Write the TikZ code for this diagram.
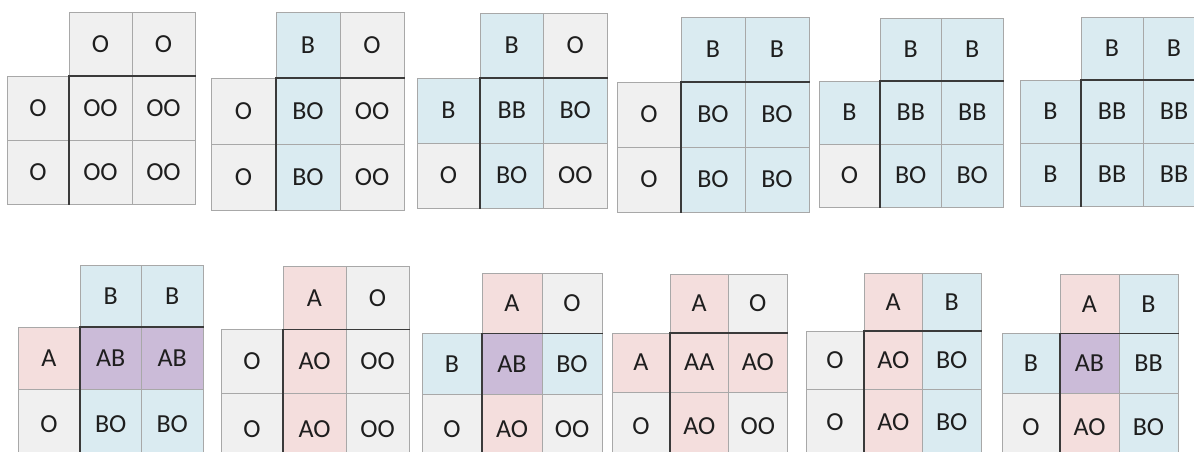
\documentclass[tikz,border=0pt]{standalone}
\usepackage{fontspec}
\setmainfont{Carlito}
\definecolor{gr}{HTML}{F0F0F0}
\definecolor{bl}{HTML}{DAEBF1}
\definecolor{pk}{HTML}{F4DEDD}
\definecolor{pu}{HTML}{CBBBD8}
\definecolor{bd}{HTML}{A8A8A8}
\definecolor{sepc}{HTML}{3A3A3A}
\definecolor{txt}{HTML}{1E1E1E}
\tikzset{
  cell/.style={draw=bd, line width=1pt, rectangle, inner sep=0pt, outer sep=0pt,
    anchor=north west, text=txt, font=\fontsize{26}{26}\selectfont},
  sepline/.style={draw=sepc, line width=1.8pt, line cap=rect}
}
\def\bext{0}
% #1 name, #2 xL, #3 xH, #4 yT, #5 w, #6 h, #7 cells i/j/colour/label
\newcommand\pgrid[7]{%
  \foreach \i/\j/\c/\t in {#7}{%
    \pgfmathsetmacro\xx{\i==0 ? #2 : #3+(\i-1)*#5}%
    \pgfmathsetmacro\ww{\i==0 ? #3-#2 : #5}%
    \pgfmathsetmacro\hh{\j==2 ? #6+\bext : #6}%
    \pgfmathsetmacro\yy{#4+\j*#6}%
    \node[cell, fill=\c, minimum width=\ww pt, minimum height=\hh pt] (#1-\i-\j) at (\xx,\yy) {\t};
  }%
  \draw[sepline] (#1-1-1.north west) -- (#1-2-1.north east);
  \draw[sepline] (#1-1-1.north west) -- (#1-1-2.south west);
}
\begin{document}
\begin{tikzpicture}[x=1pt,y=-1pt]
\useasboundingbox (0,0) rectangle (1194,451);
\fill[white] (0,0) rectangle (1194,451);
\clip (0,0) rectangle (1194,451);
% row 1
\pgrid{a}{7}{69}{12}{63}{64}{1/0/gr/O,2/0/gr/O,0/1/gr/O,0/2/gr/O,1/1/gr/OO,2/1/gr/OO,1/2/gr/OO,2/2/gr/OO}
\pgrid{b}{211}{276}{12}{64}{66}{1/0/bl/B,2/0/gr/O,0/1/gr/O,0/2/gr/O,1/1/bl/BO,2/1/gr/OO,1/2/bl/BO,2/2/gr/OO}
\pgrid{c}{417}{480}{13}{63.5}{65}{1/0/bl/B,2/0/gr/O,0/1/bl/B,0/2/gr/O,1/1/bl/BB,2/1/bl/BO,1/2/bl/BO,2/2/gr/OO}
\pgrid{d}{617}{681}{17}{64}{65}{1/0/bl/B,2/0/bl/B,0/1/gr/O,0/2/gr/O,1/1/bl/BO,2/1/bl/BO,1/2/bl/BO,2/2/bl/BO}
\pgrid{e}{819}{880}{18}{61.5}{63}{1/0/bl/B,2/0/bl/B,0/1/bl/B,0/2/gr/O,1/1/bl/BB,2/1/bl/BB,1/2/bl/BO,2/2/bl/BO}
\pgrid{f}{1020}{1081}{17}{62}{63}{1/0/bl/B,2/0/bl/B,0/1/bl/B,0/2/bl/B,1/1/bl/BB,2/1/bl/BB,1/2/bl/BB,2/2/bl/BB}
% row 2 (bottom rows run past the lower edge)
\def\bext{9}
\pgrid{g}{18}{80}{265}{61.5}{62}{1/0/bl/B,2/0/bl/B,0/1/pk/A,0/2/gr/O,1/1/pu/AB,2/1/pu/AB,1/2/bl/BO,2/2/bl/BO}
\pgrid{h}{221}{283}{266}{63}{63.5}{1/0/pk/A,2/0/gr/O,0/1/gr/O,0/2/gr/O,1/1/pk/AO,2/1/gr/OO,1/2/pk/AO,2/2/gr/OO}
\pgrid{i}{422}{482}{273}{60}{60.5}{1/0/pk/A,2/0/gr/O,0/1/bl/B,0/2/gr/O,1/1/pu/AB,2/1/bl/BO,1/2/pk/AO,2/2/gr/OO}
\pgrid{j}{612}{670}{274}{58.5}{59}{1/0/pk/A,2/0/gr/O,0/1/pk/A,0/2/gr/O,1/1/pk/AA,2/1/pk/AO,1/2/pk/AO,2/2/gr/OO}
\pgrid{k}{806}{864}{273}{58.5}{58}{1/0/pk/A,2/0/bl/B,0/1/gr/O,0/2/gr/O,1/1/pk/AO,2/1/bl/BO,1/2/pk/AO,2/2/bl/BO}
\pgrid{l}{1002}{1060}{274}{59}{59.5}{1/0/pk/A,2/0/bl/B,0/1/bl/B,0/2/gr/O,1/1/pu/AB,2/1/bl/BB,1/2/pk/AO,2/2/bl/BO}
\end{tikzpicture}
\end{document}
